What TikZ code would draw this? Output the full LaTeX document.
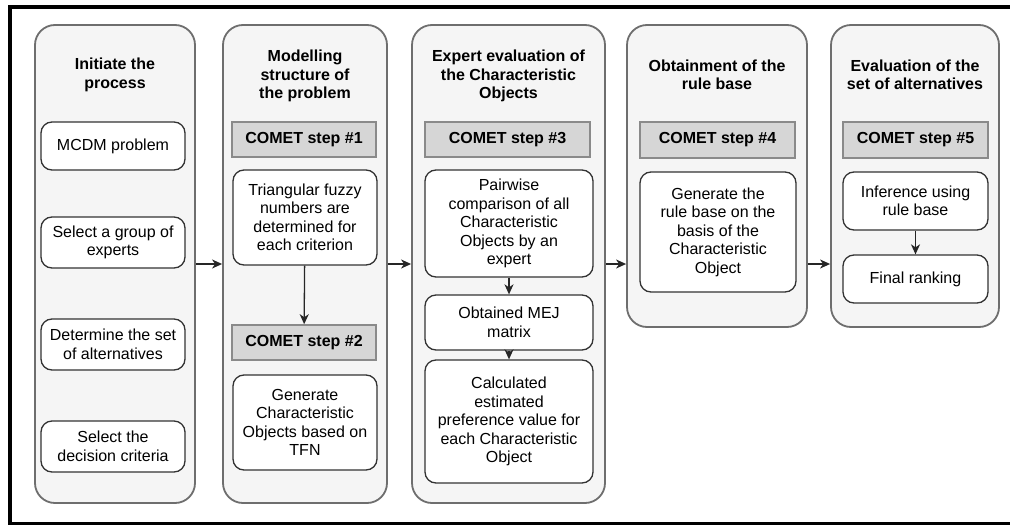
\documentclass[tikz,border=0pt]{standalone}
\usepackage{fontspec}
\setmainfont{Liberation Sans}
\usetikzlibrary{arrows.meta}
\definecolor{panelfill}{HTML}{F5F5F5}
\definecolor{paneldraw}{HTML}{6E6E6E}
\definecolor{stepfill}{HTML}{D6D6D6}
\definecolor{stepdraw}{HTML}{8A8A8A}
\definecolor{boxdraw}{HTML}{333333}
\newcommand{\mysize}{\fontsize{16}{18.5}\selectfont}
\tikzset{
  panel/.style={draw=paneldraw, fill=panelfill, line width=1.8pt, rounded corners=20pt, inner sep=0pt},
  stepbox/.style={draw=stepdraw, fill=stepfill, line width=1.6pt, inner sep=0pt, font=\mysize\bfseries, minimum height=35pt},
  itembox/.style={draw=boxdraw, fill=white, line width=1.3pt, rounded corners=11pt, inner sep=0pt, align=center, font=\mysize},
  ttl/.style={font=\mysize\bfseries, align=center, inner sep=0pt},
  arr/.style={draw=black!85, line width=1.3pt, -{Stealth[length=10pt,width=9pt,inset=3pt]}},
}
\begin{document}
\begin{tikzpicture}[x=1pt, y=-1pt, font=\mysize]
\useasboundingbox (0,0) rectangle (1010,525);
\clip (0,0) rectangle (1010,525);
\fill[white] (0,0) rectangle (1010,525);
\draw[black, line width=4pt] (10,7) rectangle (1030,523.5);

% panels
\node[panel, minimum width=160pt, minimum height=478pt] (p1) at (115,264) {};
\node[panel, minimum width=164pt, minimum height=478pt] (p2) at (305,264) {};
\node[panel, minimum width=193pt, minimum height=478pt] (p3) at (508.5,264) {};
\node[panel, minimum width=180pt, minimum height=302pt] (p4) at (717,176) {};
\node[panel, minimum width=168pt, minimum height=302pt] (p5) at (915,176) {};

% titles
\node[ttl] (t1) at (115,75) {Initiate the\\process};
\node[ttl] (t2) at (305,76) {Modelling\\structure of\\the problem};
\node[ttl] (t3) at (508.5,76) {Expert evaluation of\\the Characteristic\\Objects};
\node[ttl] (t4) at (717,75) {Obtainment of the\\rule base};
\node[ttl] (t5) at (915,75) {Evaluation of the\\set of alternatives};

% panel 1 items
\node[itembox, minimum width=144pt, minimum height=48pt] (a1) at (113,146) {MCDM problem};
\node[itembox, minimum width=144pt, minimum height=51pt] (a2) at (113,242.5) {Select a group of\\experts};
\node[itembox, minimum width=144pt, minimum height=51pt] (a3) at (113,344.5) {Determine the set\\of alternatives};
\node[itembox, minimum width=144pt, minimum height=51pt] (a4) at (113,446.5) {Select the\\decision criteria};

% panel 2
\node[stepbox, minimum width=144pt] (s1) at (304,139.5) {COMET step \#1};
\node[itembox, minimum width=144pt, minimum height=95pt] (b1) at (305,217.5) {Triangular fuzzy\\numbers are\\determined for\\each criterion};
\node[stepbox, minimum width=144pt] (s2) at (304,342.5) {COMET step \#2};
\node[itembox, minimum width=144pt, minimum height=95pt] (b2) at (305,422.5) {Generate\\Characteristic\\Objects based on\\TFN};

% panel 3
\node[stepbox, minimum width=165pt] (s3) at (507.5,139.5) {COMET step \#3};
\node[itembox, minimum width=168pt, minimum height=107pt] (c1) at (509,223.5) {Pairwise\\comparison of all\\Characteristic\\Objects by an\\expert};
\node[itembox, minimum width=168pt, minimum height=55pt] (c2) at (509,322.5) {Obtained MEJ\\matrix};
\node[itembox, minimum width=168pt, minimum height=123pt] (c3) at (509,421.5) {Calculated\\estimated\\preference value for\\each Characteristic\\Object};

% panel 4
\node[stepbox, minimum width=155pt, minimum height=36pt] (s4) at (717.5,140) {COMET step \#4};
\node[itembox, minimum width=156pt, minimum height=120pt] (d1) at (718,232) {Generate the\\rule base on the\\basis of the\\Characteristic\\Object};

% panel 5
\node[stepbox, minimum width=145pt, minimum height=36pt] (s5) at (915.5,140) {COMET step \#5};
\node[itembox, minimum width=145pt, minimum height=58pt] (e1) at (915.5,201) {Inference using\\rule base};
\node[itembox, minimum width=145pt, minimum height=48pt] (e2) at (915.5,279) {Final ranking};

% connectors
\draw[arr] (p1.east) -- (p2.west);
\draw[arr] (p2.east) -- (p3.west);
\draw[arr] (p3.east) -- (p3.east -| p4.west);
\draw[arr] (p4.east |- p3.east) -- (p3.east -| p5.west);
\draw[arr] (b1) -- (s2);
\draw[arr] (c1) -- (c2);
\draw[arr] (c2) -- (c3);
\draw[arr] (e1) -- (e2);
\end{tikzpicture}
\end{document}
